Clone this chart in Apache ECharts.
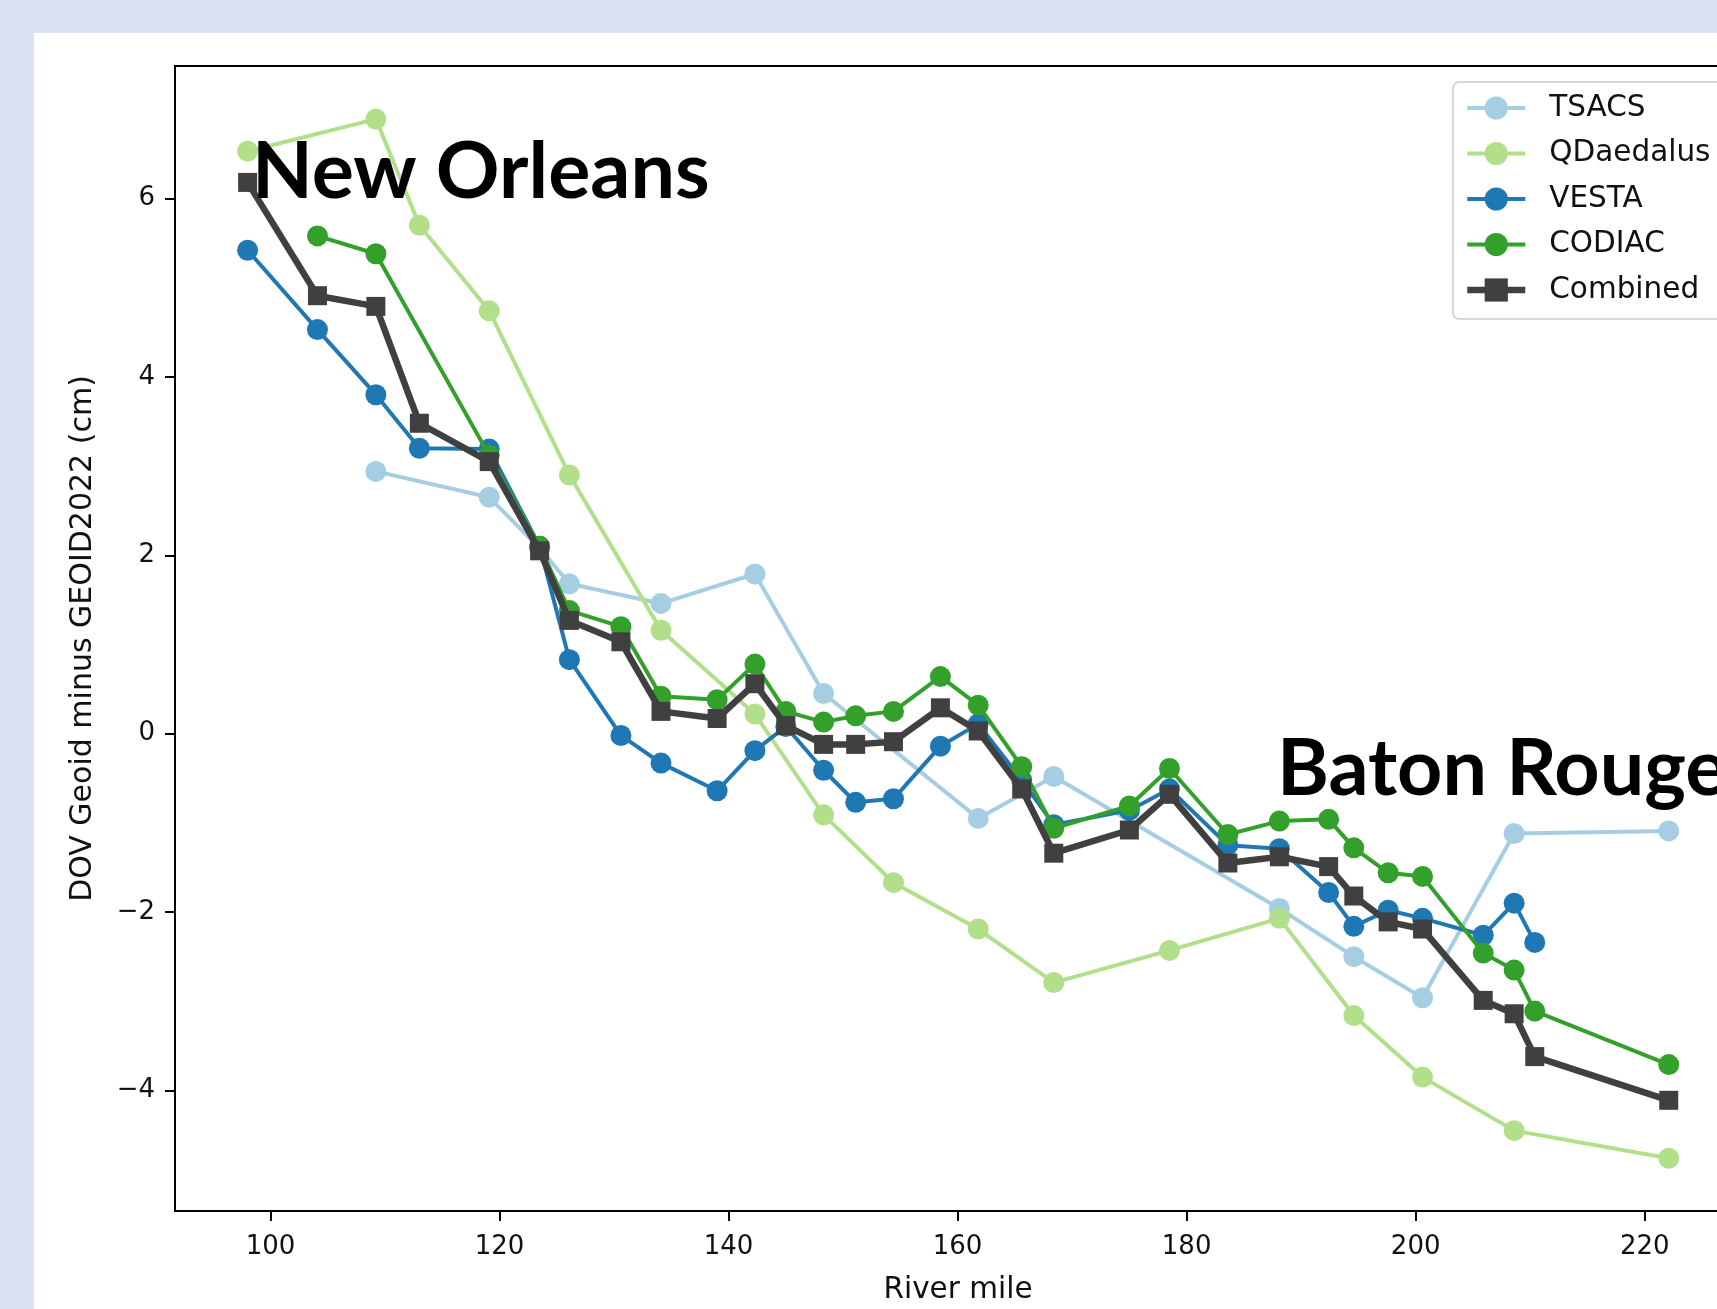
<!DOCTYPE html>
<html>
<head>
<meta charset="utf-8">
<script src="https://cdn.jsdelivr.net/npm/echarts@6/dist/echarts.min.js"></script>
<style>
  html, body { margin: 0; padding: 0; background: #dae3f3; width: 1717px; height: 1309px; overflow: hidden; }
  #panel { position: absolute; left: 34px; top: 33px; right: 0; bottom: 0; background: #ffffff; }
  #chart { position: absolute; left: 0; top: 0; width: 1717px; height: 1309px; }
</style>
</head>
<body>
<div id="panel"></div>
<div id="chart"></div>
<script>
// ---- data (River mile vs DOV geoid minus GEOID2022, cm) ----
const tsacsMiles = [109.2, 119.1, 123.5, 126.1, 134.1, 142.3, 148.3, 161.8, 168.4, 188.1, 194.6, 200.6, 208.6, 222.1];
const tsacsValues = [2.94, 2.65, 2.08, 1.68, 1.46, 1.79, 0.45, -0.95, -0.48, -1.96, -2.50, -2.96, -1.12, -1.09];

const qdaedalusMiles = [98.0, 109.2, 113.0, 119.1, 126.1, 134.1, 142.3, 148.3, 154.4, 161.8, 168.4, 178.5, 188.1, 194.6, 200.6, 208.6, 222.1];
const qdaedalusValues = [6.53, 6.89, 5.70, 4.74, 2.90, 1.16, 0.22, -0.91, -1.67, -2.19, -2.79, -2.43, -2.07, -3.16, -3.85, -4.45, -4.76];

const vestaMiles = [98.0, 104.1, 109.2, 113.0, 119.1, 123.5, 126.1, 130.6, 134.1, 139.0, 142.3, 145.0, 148.3, 151.1, 154.4, 158.5, 161.8, 165.6, 168.4, 175.0, 178.5, 183.6, 188.1, 192.4, 194.6, 197.6, 200.6, 205.9, 208.6, 210.4];
const vestaValues = [5.42, 4.53, 3.80, 3.20, 3.19, 2.10, 0.83, -0.02, -0.33, -0.64, -0.19, 0.08, -0.41, -0.77, -0.73, -0.14, 0.11, -0.52, -1.02, -0.86, -0.62, -1.25, -1.29, -1.78, -2.16, -1.98, -2.07, -2.26, -1.90, -2.34];

const codiacMiles = [104.1, 109.2, 119.1, 123.5, 126.1, 130.6, 134.1, 139.0, 142.3, 145.0, 148.3, 151.1, 154.4, 158.5, 161.8, 165.6, 168.4, 175.0, 178.5, 183.6, 188.1, 192.4, 194.6, 197.6, 200.6, 205.9, 208.6, 210.4, 222.1];
const codiacValues = [5.58, 5.38, 3.12, 2.10, 1.38, 1.20, 0.42, 0.38, 0.78, 0.25, 0.13, 0.20, 0.25, 0.64, 0.32, -0.37, -1.06, -0.81, -0.39, -1.13, -0.98, -0.96, -1.28, -1.56, -1.60, -2.46, -2.65, -3.11, -3.71];

const combinedMiles = [98.0, 104.1, 109.2, 113.0, 119.1, 123.5, 126.1, 130.6, 134.1, 139.0, 142.3, 145.0, 148.3, 151.1, 154.4, 158.5, 161.8, 165.6, 168.4, 175.0, 178.5, 183.6, 188.1, 192.4, 194.6, 197.6, 200.6, 205.9, 208.6, 210.4, 222.1];
const combinedValues = [6.18, 4.91, 4.79, 3.48, 3.05, 2.05, 1.27, 1.03, 0.25, 0.17, 0.56, 0.09, -0.12, -0.12, -0.09, 0.29, 0.03, -0.62, -1.34, -1.08, -0.68, -1.45, -1.38, -1.49, -1.82, -2.11, -2.19, -2.99, -3.14, -3.62, -4.11];

const xTicks = [100, 120, 140, 160, 180, 200, 220];
const yTicks = [-4, -2, 0, 2, 4, 6];

const seriesNames = ['TSACS', 'QDaedalus', 'VESTA', 'CODIAC', 'Combined'];
const seriesColors = ['#a6cee3', '#b2df8a', '#1f78b4', '#33a02c', '#404040'];
const annotations = ['New Orleans', 'Baton Rouge'];
const xAxisTitle = 'River mile';
const yAxisTitle = 'DOV Geoid minus GEOID2022 (cm)';

// ---- build ----
function pairs(xs, ys) { return xs.map((x, i) => [x, ys[i]]); }
const allData = [
  pairs(tsacsMiles, tsacsValues),
  pairs(qdaedalusMiles, qdaedalusValues),
  pairs(vestaMiles, vestaValues),
  pairs(codiacMiles, codiacValues),
  pairs(combinedMiles, combinedValues)
];

const FONT = 'DejaVu Sans';
const chart = echarts.init(document.getElementById('chart'), null, { renderer: 'canvas' });

const lineW = name => name === 'Combined' ? 6.5 : 4;

const series = seriesNames.map((name, i) => {
  const isComb = name === 'Combined';
  return {
    name: name,
    type: 'line',
    data: allData[i],
    symbol: isComb ? 'rect' : 'circle',
    symbolSize: isComb ? 19 : 21,
    showSymbol: true,
    animation: false,
    z: 2 + i,
    lineStyle: { color: seriesColors[i], width: lineW(name) },
    itemStyle: { color: seriesColors[i], borderWidth: 0 },
    emphasis: { disabled: true }
  };
});

const minusFmt = v => String(v).replace('-', '\u2212');

chart.setOption({
  animation: false,
  backgroundColor: 'transparent',
  textStyle: { fontFamily: FONT },
  grid: {
    left: 175, top: 66, width: 1566, height: 1145,
    outerBoundsMode: 'none', containLabel: false,
    show: true, borderColor: '#000', borderWidth: 2, backgroundColor: '#fff'
  },
  legend: {
    data: seriesNames.map((name, i) => ({
      name: name,
      lineStyle: { width: lineW(name), color: seriesColors[i] }
    })),
    orient: 'vertical',
    left: 1453, top: 82,
    padding: [11, 12, 14, 11],
    itemWidth: 58, itemHeight: 29, itemGap: 15.5,
    backgroundColor: 'rgba(255,255,255,0.8)',
    borderColor: '#cccccc', borderWidth: 1.5, borderRadius: 6,
    textStyle: { fontFamily: FONT, fontSize: 29.5, color: '#111', lineHeight: 30, padding: [0, 0, 0, 19] },
    selectedMode: false
  },
  xAxis: {
    type: 'value', min: 91.66, max: 228.41,
    name: xAxisTitle, nameLocation: 'middle', nameGap: 64,
    nameTextStyle: { fontFamily: FONT, fontSize: 29.5, color: '#111' },
    axisLine: { show: true, onZero: false, lineStyle: { color: '#000', width: 2 } },
    axisTick: { show: true, length: 10, lineStyle: { color: '#000', width: 2 }, customValues: xTicks },
    axisLabel: { fontFamily: FONT, fontSize: 26, color: '#111', margin: 23, customValues: xTicks, formatter: minusFmt },
    splitLine: { show: false }
  },
  yAxis: {
    type: 'value', min: -5.351, max: 7.485,
    name: yAxisTitle, nameLocation: 'middle', nameGap: 77, nameRotate: 90,
    nameTextStyle: { fontFamily: FONT, fontSize: 30, color: '#111' },
    axisLine: { show: true, onZero: false, lineStyle: { color: '#000', width: 2 } },
    axisTick: { show: true, length: 10, lineStyle: { color: '#000', width: 2 }, customValues: yTicks },
    axisLabel: { fontFamily: FONT, fontSize: 26, color: '#111', margin: 20, customValues: yTicks, formatter: minusFmt },
    splitLine: { show: false }
  },
  graphic: [
    { type: 'text', x: 252, y: 173, z: 100,
      style: { text: annotations[0], fontFamily: 'Lato', fontWeight: 'bold', fontSize: 79, fill: '#000', align: 'left', verticalAlign: 'middle' } },
    { type: 'text', x: 1277, y: 770, z: 100,
      style: { text: annotations[1], fontFamily: 'Lato', fontWeight: 'bold', fontSize: 79, fill: '#000', align: 'left', verticalAlign: 'middle' } }
  ],
  series: series
});
</script>
</body>
</html>
